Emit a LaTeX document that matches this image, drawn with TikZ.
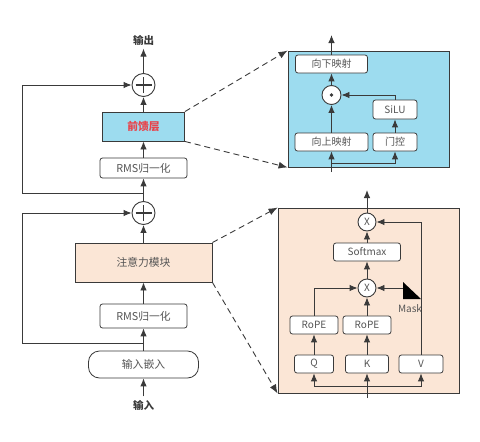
\documentclass[tikz,border=0pt]{standalone}
\usepackage{fontspec}
\setmainfont{Noto Sans CJK SC}
\usetikzlibrary{arrows.meta,positioning,calc}
\definecolor{linegray}{HTML}{3A3A3A}
\definecolor{textgray}{HTML}{555555}
\definecolor{ffnblue}{HTML}{9DDCEF}
\definecolor{attnpeach}{HTML}{FBE6D6}
\definecolor{ffnred}{HTML}{E8434B}

\begin{document}
\begin{tikzpicture}[
  x=1pt, y=-1pt,
  font=\fontsize{10}{12}\selectfont,
  box/.style={draw=linegray, line width=0.8pt, rounded corners=2.5pt, fill=white, text=textgray, inner sep=0pt},
  block/.style={draw=linegray, line width=0.9pt, text=textgray, inner sep=0pt},
  big/.style={font=\fontsize{10.8}{13}\selectfont},
  panel/.style={draw=linegray, line width=0.9pt, inner sep=0pt},
  addop/.style={circle, draw=linegray, line width=0.9pt, fill=white, minimum size=23pt, inner sep=0pt,
    path picture={\draw[line width=1.5pt, linegray] ($(path picture bounding box.center)+(-8pt,0)$) -- ++(16pt,0)
      ($(path picture bounding box.center)+(0,-8pt)$) -- ++(0,16pt);}},
  mulop/.style={circle, draw=linegray, line width=0.9pt, fill=white, minimum size=18pt, inner sep=0pt, text=textgray},
  dotop/.style={circle, draw=linegray, line width=0.9pt, fill=white, minimum size=19pt, inner sep=0pt,
    path picture={\fill[linegray] (path picture bounding box.center) circle (1.9pt);}},
  lbl/.style={font=\fontsize{10.5}{12}\selectfont\bfseries, text=linegray},
  arr/.style={-{Latex[length=8pt,width=6.5pt]}, line width=0.9pt, draw=linegray},
  zoomarr/.style={dash pattern=on 6pt off 4pt, -{Latex[length=9pt,width=7pt]}, line width=0.9pt, draw=linegray}
]
\useasboundingbox (0,0) rectangle (480,442);
\coordinate (resx) at (22,0);

\node[box, big, rounded corners=11pt, minimum width=110pt, minimum height=27pt] (embed) at (143.5,364.5) {输入嵌入};
\node[lbl] (inlbl) at (143.5,405) {输入};
\node[box, big, minimum width=87pt, minimum height=24pt] (norma) at (143.5,316) {RMS归一化};
\node[block, big, fill=attnpeach, minimum width=137pt, minimum height=39pt] (attn) at (143.5,262.5) {注意力模块};
\node[addop] (adda) at (143.5,213) {};
\node[box, big, minimum width=87pt, minimum height=20pt] (normb) at (143.5,168) {RMS归一化};
\node[block, big, fill=ffnblue, minimum width=82pt, minimum height=29pt, text=ffnred] (ffn) at (143.5,126.5) {\bfseries 前馈层};
\node[addop] (addb) at (143.5,85) {};
\node[lbl] (outlbl) at (143.5,40) {输出};
\coordinate (splita) at (143.5,343);
\coordinate (splitb) at (143.5,193);

\draw[arr] (inlbl) -- (embed);
\draw[arr] (embed) -- (norma);
\draw[arr] (norma) -- (attn);
\draw[arr] (attn) -- (adda);
\draw[arr] (splita) -- (splita -| resx) |- (adda.west);
\draw[arr] (adda) -- (normb);
\draw[arr] (normb) -- (ffn);
\draw[arr] (ffn) -- (addb);
\draw[arr] (splitb) -- (splitb -| resx) |- (addb.west);
\draw[arr] (addb) -- (outlbl);

\node[panel, fill=ffnblue, minimum width=161pt, minimum height=116pt] (ffnpanel) at (368.5,109) {};
\node[box, minimum width=72pt, minimum height=18pt] (down) at (331.5,64) {向下映射};
\node[dotop] (gatemul) at (331.5,95) {};
\node[box, minimum width=44pt, minimum height=19pt] (silu) at (395,109.5) {SiLU};
\node[box, minimum width=73pt, minimum height=18pt] (up) at (331.5,142) {向上映射};
\node[box, minimum width=44pt, minimum height=18pt] (gate) at (395,142) {门控};
\coordinate (ffnin) at (331.5,172);
\coordinate (ffnsplit) at (331.5,163);
\coordinate (ffnout) at (331.5,35);

\draw[arr] (ffnin) -- (up);
\draw[arr] (ffnsplit) -| (gate);
\draw[arr] (up) -- (gatemul);
\draw[arr] (gate) -- (silu);
\draw[arr] (silu) |- (gatemul);
\draw[arr] (gatemul) -- (down);
\draw[arr] (down) -- (ffnout);

\node[panel, fill=attnpeach, minimum width=181pt, minimum height=185pt] (attnpanel) at (368.5,300.5) {};
\node[mulop] (mulb) at (367,222) {X};
\node[box, minimum width=67pt, minimum height=18pt] (softmax) at (367,252) {Softmax};
\node[mulop] (mula) at (367,288) {X};
\node[box, minimum width=48pt, minimum height=18pt] (ropeq) at (314,325) {RoPE};
\node[box, minimum width=48pt, minimum height=18pt] (ropek) at (367,325) {RoPE};
\node[box, minimum width=39pt, minimum height=18pt] (q) at (314,364) {Q};
\node[box, minimum width=43pt, minimum height=18pt] (k) at (367,364) {K};
\node[box, minimum width=44pt, minimum height=18pt] (v) at (421,364) {V};
\fill[black] (403,282) -- (403,299) -- (421,299) -- cycle;
\coordinate (mask) at (403,288);
\node[text=textgray] (masklbl) at (410,308.5) {Mask};
\coordinate (attnin) at (367,398);
\coordinate (attnsplit) at (367,386);
\coordinate (attnout) at (367,190);

\draw[arr] (attnin) -- (k);
\draw[arr] (attnsplit) -| (q);
\draw[arr] (attnsplit) -| (v);
\draw[arr] (q) -- (ropeq);
\draw[arr] (k) -- (ropek);
\draw[arr] (ropeq) |- (mula);
\draw[arr] (ropek) -- (mula);
\draw[arr] (mask) -- (mula);
\draw[arr] (mula) -- (softmax);
\draw[arr] (softmax) -- (mulb);
\draw[arr] (v) |- (mulb);
\draw[arr] (mulb) -- (attnout);

\draw[zoomarr] (ffn.north east) -- (ffnpanel.north west);
\draw[zoomarr] (ffn.south east) -- (ffnpanel.south west);
\draw[zoomarr] (attn.north east) -- (attnpanel.north west);
\draw[zoomarr] (attn.south east) -- (attnpanel.south west);
\end{tikzpicture}
\end{document}
